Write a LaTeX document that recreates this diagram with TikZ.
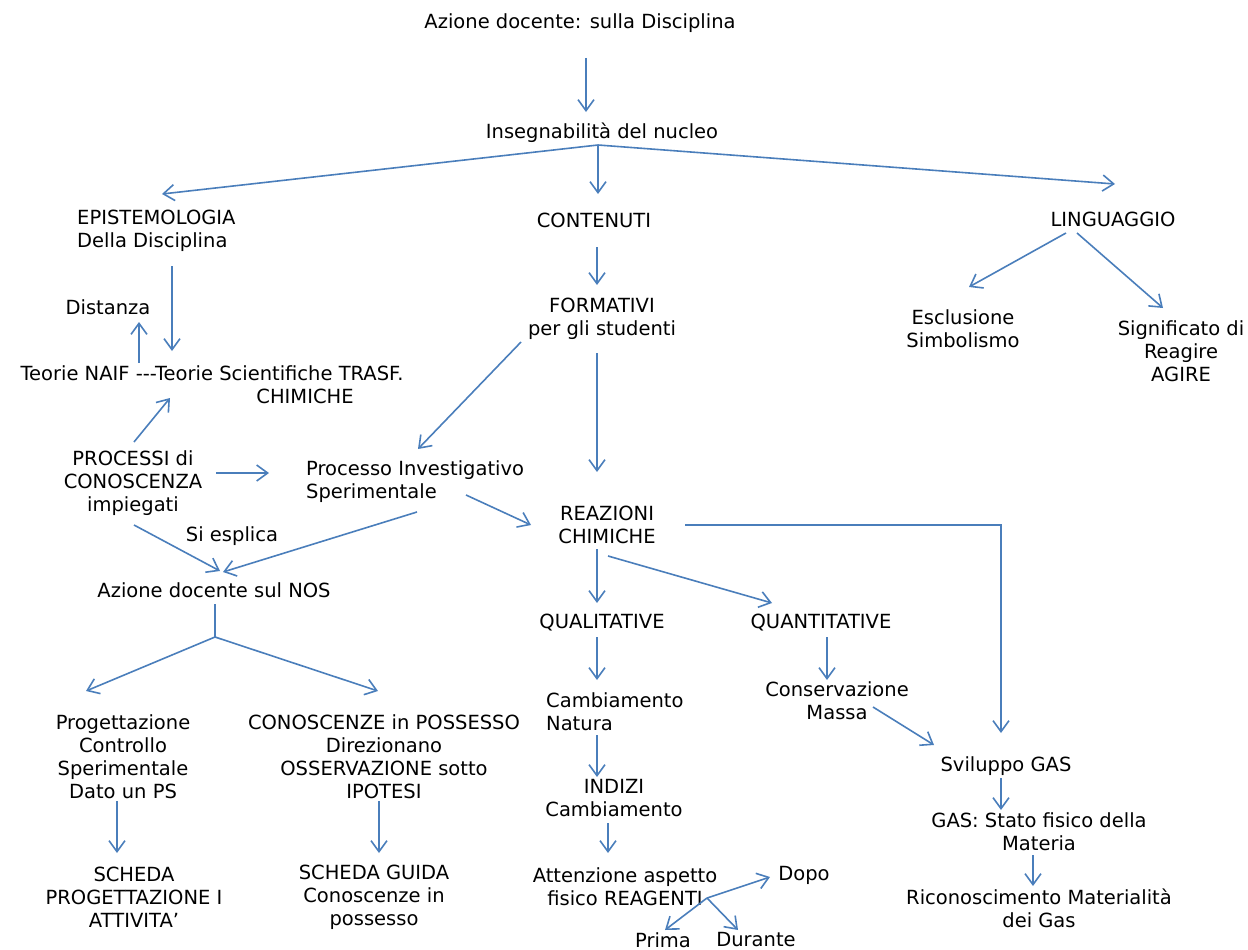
\documentclass[tikz,border=0pt]{standalone}
\usepackage{fontspec}
\setmainfont{DejaVu Sans}
\usetikzlibrary{arrows.meta}
\definecolor{linkblue}{RGB}{74,126,187}
\tikzset{
    txt/.style={inner sep=0pt, align=center, font=\fontsize{19.5}{23}\selectfont},
    txtl/.style={txt, align=left, anchor=west},
    arr/.style={draw=linkblue, line width=1.6pt, -{Straight Barb[length=11pt,width=16pt]}},
    lnk/.style={draw=linkblue, line width=1.6pt}
}
\begin{document}
\begin{tikzpicture}[x=1pt, y=-1pt]
    \useasboundingbox (0,0) rectangle (1248,950);
    % top of the map
    \node[txt] (top) at (580,23) {Azione docente: sulla Disciplina};
    \node[txt] (ins) at (602,133) {Insegnabilità del nucleo};
    \node[txtl] (epi) at (77,230.5) {EPISTEMOLOGIA\\Della Disciplina};
    \node[txt] (cont) at (594,220) {CONTENUTI};
    \node[txt] (ling) at (1113,219) {LINGUAGGIO};
    % left branch
    \node[txt] (dist) at (108,307) {Distanza};
    \node[txt] (teorie) at (212,373) {Teorie NAIF -{}-{}-Teorie Scientifiche TRASF.};
    \node[txt] (chim) at (305,396) {CHIMICHE};
    \node[txt] (proc) at (133,483) {PROCESSI di\\CONOSCENZA\\impiegati};
    \node[txtl] (inv) at (306,481.5) {Processo Investigativo\\Sperimentale};
    \node[txt] (esplica) at (232,536) {Si esplica};
    \node[txt] (nos) at (214,590) {Azione docente sul NOS};
    \node[txt] (prog) at (123,756.5) {Progettazione\\Controllo\\Sperimentale\\Dato un PS};
    \node[txt] (conosc) at (384,756.5) {CONOSCENZE in POSSESSO\\Direzionano\\OSSERVAZIONE sotto\\IPOTESI};
    \node[txt] (sch1) at (134,897) {SCHEDA\\PROGETTAZIONE I\\ATTIVITA’};
    \node[txt] (sch2) at (374,897) {SCHEDA GUIDA\\Conoscenze in\\possesso};
    % middle branch
    \node[txt] (form) at (602,318.5) {FORMATIVI\\per gli studenti};
    \node[txt] (reaz) at (607,525) {REAZIONI\\CHIMICHE};
    \node[txt] (qual) at (602,623) {QUALITATIVE};
    \node[txt] (quant) at (821,623) {QUANTITATIVE};
    \node[txtl] (camb) at (546,712) {Cambiamento\\Natura};
    \node[txt] (cons) at (837,701) {Conservazione\\Massa};
    \node[txt] (indizi) at (614,798.5) {INDIZI\\Cambiamento};
    \node[txt] (att) at (625,886.5) {Attenzione aspetto\\fisico REAGENTI};
    \node[txt] (dopo) at (804,875) {Dopo};
    \node[txt] (prima) at (663,940) {Prima};
    \node[txt] (durante) at (756,940) {Durante};
    % right branch
    \node[txt] (esc) at (963,328.5) {Esclusione\\Simbolismo};
    \node[txt] (sig) at (1181,351) {Significato di\\Reagire\\AGIRE};
    \node[txt] (svil) at (1006,766) {Sviluppo GAS};
    \node[txt] (gasst) at (1039,831.5) {GAS: Stato fisico della\\Materia};
    \node[txt] (ric) at (1039,908) {Riconoscimento Materialità\\dei Gas};
    % forks
    \coordinate (insfork) at ([shift={(-4,12)}]ins.center);
    \coordinate (nosfork) at ([shift={(1,47)}]nos.center);
    \coordinate (attfork) at ([shift={(82,11.5)}]att.center);
    % arrows
    \draw[arr] ([shift={(6,35)}]top.center) -- ([shift={(-16,-21)}]ins.center);
    \draw[arr] (insfork) -- ([shift={(85,-36.5)}]epi.west);
    \draw[arr] (insfork) -- ([shift={(4,-26)}]cont.center);
    \draw[arr] (insfork) -- ([shift={(2,-35)}]ling.center);
    \draw[arr] ([shift={(3,27)}]cont.center) -- ([shift={(-5,-33.5)}]form.center);
    \draw[arr] ([shift={(95,35.5)}]epi.west) -- ([shift={(-40,-22)}]teorie.center);
    \draw[arr] ([shift={(-73,-10)}]teorie.center) -- ([shift={(31,15)}]dist.center);
    \draw[arr] ([shift={(1,-41)}]proc.center) -- ([shift={(-42,25)}]teorie.center);
    \draw[arr] ([shift={(-81,23.5)}]form.center) -- ([shift={(112,-32.5)}]inv.west);
    \draw[arr] ([shift={(-5,34.5)}]form.center) -- ([shift={(-10,-53)}]reaz.center);
    \draw[arr] ([shift={(83,-10)}]proc.center) -- ([shift={(-37,-8.5)}]inv.west);
    \draw[arr] ([shift={(160,13.5)}]inv.west) -- ([shift={(-76,0)}]reaz.center);
    \draw[arr] ([shift={(1,42)}]proc.center) -- ([shift={(6,-19)}]nos.center);
    \draw[arr] ([shift={(111,30.5)}]inv.west) -- ([shift={(9,-18)}]nos.center);
    \draw[arr] ([shift={(78,0)}]reaz.center) -| ([shift={(-5,-33)}]svil.center);
    \draw[arr] ([shift={(-10,24)}]reaz.center) -- ([shift={(-5,-20)}]qual.center);
    \draw[arr] ([shift={(1,31)}]reaz.center) -- ([shift={(-49,-20)}]quant.center);
    \draw[lnk] ([shift={(1,14)}]nos.center) -- (nosfork);
    \draw[arr] (nosfork) -- ([shift={(-37,-65.5)}]prog.center);
    \draw[arr] (nosfork) -- ([shift={(-6,-65.5)}]conosc.center);
    \draw[arr] ([shift={(-47,14)}]ling.center) -- ([shift={(6,-41.5)}]esc.center);
    \draw[arr] ([shift={(-36,14)}]ling.center) -- ([shift={(-18,-43)}]sig.center);
    \draw[arr] ([shift={(-5,14)}]qual.center) -- ([shift={(51,-32)}]camb.west);
    \draw[arr] ([shift={(6,14)}]quant.center) -- ([shift={(-10,-21)}]cons.center);
    \draw[arr] ([shift={(-6,44.5)}]prog.center) -- ([shift={(-17,-44)}]sch1.center);
    \draw[arr] ([shift={(-5,44.5)}]conosc.center) -- ([shift={(5,-44)}]sch2.center);
    \draw[arr] ([shift={(51,23)}]camb.west) -- ([shift={(-17,-21.5)}]indizi.center);
    \draw[arr] ([shift={(-6,24.5)}]indizi.center) -- ([shift={(-17,-33.5)}]att.center);
    \draw[arr] ([shift={(36,6)}]cons.center) -- ([shift={(-72,-21)}]svil.center);
    \draw[arr] ([shift={(-5,12)}]svil.center) -- ([shift={(-38,-21.5)}]gasst.center);
    \draw[arr] ([shift={(-6,23.5)}]gasst.center) -- ([shift={(-6,-22)}]ric.center);
    \draw[arr] (attfork) -- ([shift={(-34,2)}]dopo.center);
    \draw[arr] (attfork) -- ([shift={(2,-10)}]prima.center);
    \draw[arr] (attfork) -- ([shift={(-18,-10)}]durante.center);
\end{tikzpicture}
\end{document}
